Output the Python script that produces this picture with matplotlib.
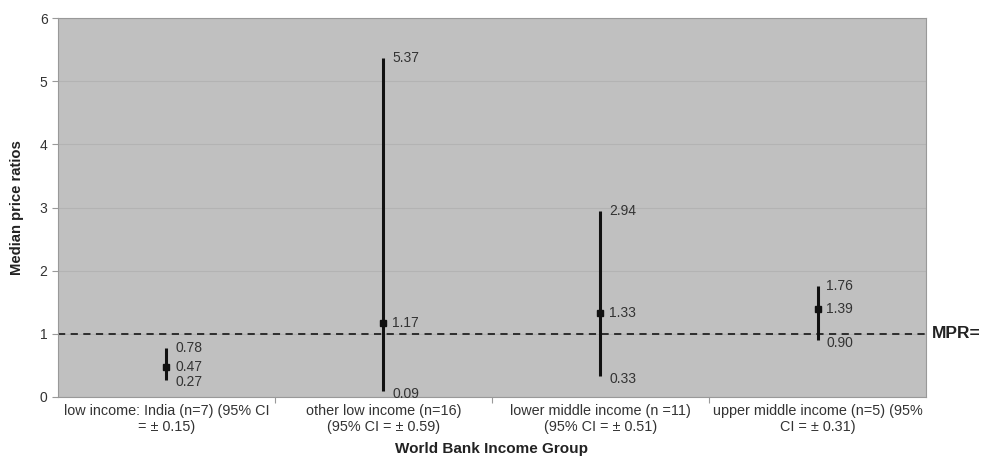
import numpy as np
import matplotlib.pyplot as plt

plt.rcParams['font.family'] = ['Liberation Sans', 'DejaVu Sans']

groups = ['low income: India (n=7) (95% CI\n= \u00b1 0.15)',
          'other low income (n=16)\n(95% CI = \u00b1 0.59)',
          'lower middle income (n =11)\n(95% CI = \u00b1 0.51)',
          'upper middle income (n=5) (95%\nCI = \u00b1 0.31)']
medians = [0.47, 1.17, 1.33, 1.39]
lows = [0.27, 0.09, 0.33, 0.90]
highs = [0.78, 5.37, 2.94, 1.76]
mpr = 1.0

fig = plt.figure(figsize=(9.82, 4.67), dpi=100)
ax = fig.add_axes([0.059, 0.150, 0.884, 0.811])
ax.set_facecolor('#c0c0c0')

x = np.arange(len(groups))
ax.vlines(x, lows, highs, color='#111111', linewidth=2.2, zorder=3)
ax.plot(x, medians, 's', color='#111111', markersize=5, zorder=4)
ax.axhline(mpr, color='#222222', linestyle=(0, (4, 3)), linewidth=1.3, zorder=2)

for i in x:
    dx = 0.04
    ax.text(i + dx, highs[i], f'{highs[i]:.2f}', va='center', ha='left',
            fontsize=10, color='#333333')
    ax.text(i + dx, medians[i], f'{medians[i]:.2f}', va='center', ha='left',
            fontsize=10, color='#333333')
    # low labels sit slightly below the end of the line
    ax.text(i + dx, lows[i] - 0.04, f'{lows[i]:.2f}', va='center', ha='left',
            fontsize=10, color='#333333')

ax.text(1.007, mpr, 'MPR=', transform=ax.get_yaxis_transform(),
        fontsize=12.5, fontweight='bold', va='center', ha='left', color='#222222')

ax.set_xlim(-0.5, 3.5)
ax.set_ylim(0, 6)
ax.set_yticks(range(7))
ax.yaxis.grid(True, color='#b3b3b3', linewidth=0.8)
ax.set_axisbelow(True)
ax.set_xticks([0.5, 1.5, 2.5], minor=False)
ax.set_xticklabels([])
ax.set_xticks(x, minor=True)
ax.set_xticklabels(groups, minor=True, fontsize=10.4, color='#333333')
ax.tick_params(axis='x', which='minor', length=0, pad=5)
ax.tick_params(axis='x', which='major', length=4, color='#999999')
ax.tick_params(axis='y', length=4, color='#999999', labelsize=10, labelcolor='#333333')

for s in ax.spines.values():
    s.set_color('#999999')

ax.set_ylabel('Median price ratios', fontsize=10.7, fontweight='bold', color='#222222', labelpad=11)
ax.set_xlabel('World Bank Income Group', fontsize=11, fontweight='bold', color='#222222', labelpad=6)

fig.savefig('out.png', dpi=100)
